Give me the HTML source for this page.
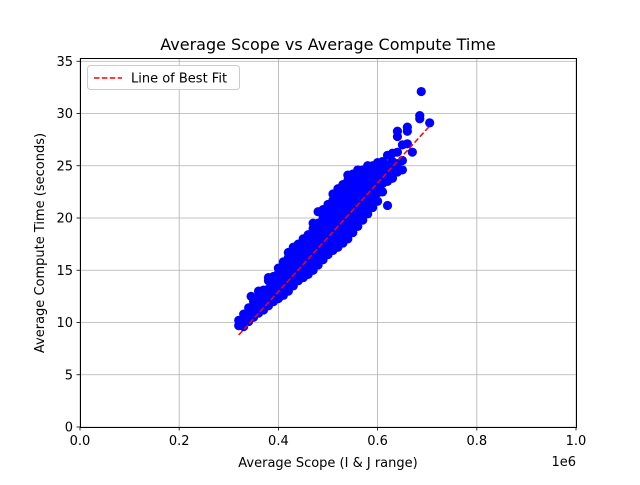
<!DOCTYPE html>
<html><head><meta charset="utf-8"><style>
body{margin:0;background:#fff}
svg text{font-family:"DejaVu Sans","Liberation Sans",sans-serif;fill:#000}
</style></head><body>
<svg id="chart" width="640" height="480">
<text x="328" y="50" font-size="16" text-anchor="middle">Average Scope vs Average Compute Time</text>
<g id="grid"></g>
<g id="ticks"></g>
<g id="pts"></g>
<g id="fit"></g>
<rect x="80.5" y="58.5" width="496" height="369" fill="none" stroke="#000" stroke-width="1"/>
<text x="328" y="467" font-size="13" text-anchor="middle">Average Scope (I &amp; J range)</text>
<text x="576" y="466" font-size="13" text-anchor="end">1e6</text>
<text transform="translate(44,243) rotate(-90)" font-size="13" text-anchor="middle">Average Compute Time (seconds)</text>
<g>
<rect x="87.5" y="65.5" width="152" height="24" rx="3" fill="#fff" fill-opacity="0.8" stroke="#ccc"/>
<line x1="94" y1="78" x2="122" y2="78" stroke="red" stroke-width="1.5" stroke-dasharray="5.5,2.4"/>
<text x="131" y="82.5" font-size="13">Line of Best Fit</text>
</g>
</svg>
<script>
const xTicks=[0,0.2,0.4,0.6,0.8,1.0];
const xTickLabels=["0.0","0.2","0.4","0.6","0.8","1.0"];
const yTicks=[0,5,10,15,20,25,30,35];
const colX=[0.32,0.33,0.34,0.345,0.35,0.36,0.37,0.38,0.39,0.40,0.41,0.42,0.43,0.44,0.45,0.46,0.47,0.48,0.49,0.50,0.51,0.52,0.53,0.54,0.55,0.56,0.57,0.58,0.59,0.60,0.61,0.62,0.63,0.64,0.65,0.66,0.67,0.685,0.688,0.705];
const colY=[[9.7,10.2],[9.6,10.4,10.8],[10.1,10.9,11.4],[12.5],[10.5,11.3,12.0],[10.9,11.7,12.5,13.0],[11.2,12.0,12.8,13.1],[11.6,12.4,13.2,14.0,14.3],[12.0,12.8,13.6,14.4],[12.3,13.1,13.9,14.7,15.2],[12.6,13.4,14.2,15.0,15.8],[13.0,13.8,14.6,15.4,16.2,16.7],[13.5,14.3,15.1,15.9,16.7,17.2],[14.0,14.8,15.6,16.4,17.2,17.5],[14.3,15.1,15.9,16.7,17.5,18.0],[14.6,15.4,16.2,17.0,17.8,18.4],[15.0,15.8,16.6,17.4,18.2,19.0,19.5],[15.5,16.3,17.1,17.9,18.7,19.5,20.6],[16.0,16.8,17.6,18.4,19.2,20.0,20.8],[16.5,17.3,18.1,18.9,19.7,20.5,21.3],[16.9,17.7,18.5,19.3,20.1,20.9,21.7,22.3],[17.2,18.0,18.8,19.6,20.4,21.2,22.0,22.8],[17.6,18.4,19.2,20.0,20.8,21.6,22.4,23.2],[18.0,18.8,19.6,20.4,21.2,22.0,22.8,23.6,24.1],[18.6,19.4,20.2,21.0,21.8,22.6,23.4,24.2],[19.2,20.0,20.8,21.6,22.4,23.2,24.0,24.6],[19.8,20.6,21.4,22.2,23.0,23.8,24.6],[20.4,21.2,22.0,22.8,23.6,24.4,25.0],[21.0,21.8,22.6,23.4,24.2,25.0],[21.6,22.4,23.2,24.0,24.8,25.3],[22.5,23.3,24.1,24.9,25.4],[21.2,23.5,24.3,25.1,26.0],[23.8,24.6,25.4,26.2],[24.4,25.2,26.3,27.8,28.3],[24.6,25.5,27.0],[27.1,28.3,28.7],[26.3],[29.5,29.8],[32.1],[29.1]];
const fitX=[0.32,0.705];
const fitY=[8.8,28.8];
const X=v=>80+v*496, Y=v=>427-v*10.45;
const NS="http://www.w3.org/2000/svg";
function mk(t,a,p){const e=document.createElementNS(NS,t);for(const k in a)e.setAttribute(k,a[k]);p.appendChild(e);return e;}
const grid=document.getElementById('grid'),ticks=document.getElementById('ticks');
xTicks.forEach((v,i)=>{
 const g=mk('line',{x1:X(v),x2:X(v),y1:58,y2:427,stroke:'#b0b0b0','stroke-width':0.8},grid);
 
 
 mk('line',{x1:X(v),x2:X(v),y1:427,y2:430.5,stroke:'#000','stroke-width':0.8},ticks);
 const t=mk('text',{x:X(v),y:445,'font-size':13,'text-anchor':'middle'},ticks);t.textContent=xTickLabels[i];
 
 
});
yTicks.forEach(v=>{
 const g=mk('line',{x1:80,x2:576,y1:Y(v),y2:Y(v),stroke:'#b0b0b0','stroke-width':0.8},grid);
 
 
 mk('line',{x1:76.5,x2:80,y1:Y(v),y2:Y(v),stroke:'#000','stroke-width':0.8},ticks);
 const t=mk('text',{x:73,y:Y(v)+4.5,'font-size':13,'text-anchor':'end'},ticks);t.textContent=v;
 
 
});
const pts=document.getElementById('pts');
colX.forEach((x,i)=>colY[i].forEach(y=>{
 const c=mk('circle',{cx:X(x),cy:Y(y),r:4.6,fill:'#0000ff'},pts);
 
 
}));
const f=mk('line',{x1:X(fitX[0]),y1:Y(fitY[0]),x2:X(fitX[1]),y2:Y(fitY[1]),stroke:'red','stroke-width':1.5,'stroke-dasharray':'5.5,2.4'},document.getElementById('fit'));


</script>
</body></html>
